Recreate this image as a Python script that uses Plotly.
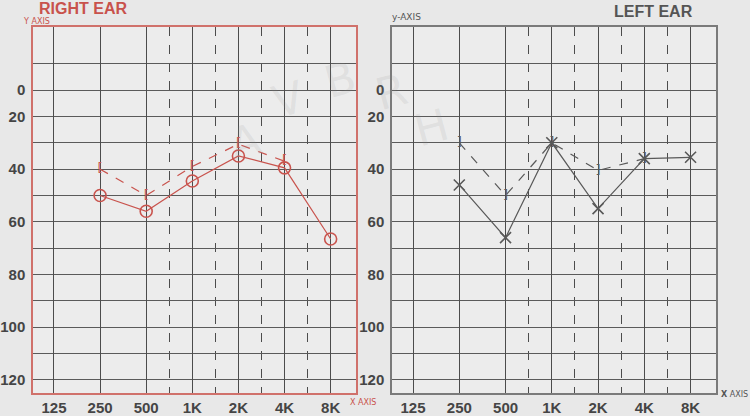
import plotly.graph_objects as go
import math

freqs = [125, 250, 500, 1000, 2000, 4000, 8000]
freq_labels = ["125", "250", "500", "1K", "2K", "4K", "8K"]
half_octave_lines = [707, 1414, 2828, 5657]

# Right ear
right_air_freq = [250, 500, 1000, 2000, 4000, 8000]
right_air_db = [50, 56, 44.5, 35, 39.5, 66.5]
right_bone_freq = [250, 500, 1000, 2000, 4000]
right_bone_db = [40, 50, 39, 30.5, 37]

# Left ear
left_air_freq = [250, 500, 1000, 2000, 4000, 8000]
left_air_db = [46, 66, 30, 55, 36, 35.5]
left_bone_freq = [250, 500, 1000, 2000, 4000]
left_bone_db = [30, 50, 30, 40.5, 36]

db_tickvals = [10, 20, 40, 60, 80, 100, 120]
db_ticktext = ["0", "20", "40", "60", "80", "100", "120"]
db_grid = [0, 10, 20, 30, 40, 50, 60, 70, 80, 90, 100, 110, 120]

watermark_letters = ["A", "V", "B", "R", "H"]

RED = "#c9544e"
GRAY = "#595959"
W, H = 750, 416

fig = go.Figure()

# Right ear traces
fig.add_trace(go.Scatter(x=right_bone_freq, y=right_bone_db, mode="lines+text",
                         text=["["] * len(right_bone_freq), textposition="middle center",
                         textfont=dict(size=13, color=RED, family="DejaVu Sans"),
                         line=dict(color=RED, width=1.2, dash="dash"),
                         xaxis="x", yaxis="y", showlegend=False))
fig.add_trace(go.Scatter(x=right_air_freq, y=right_air_db, mode="lines+markers",
                         marker=dict(symbol="circle-open", size=12, color=RED, line=dict(width=1.6)),
                         line=dict(color=RED, width=1.2),
                         xaxis="x", yaxis="y", showlegend=False))

# Left ear traces
fig.add_trace(go.Scatter(x=left_bone_freq, y=left_bone_db, mode="lines+text",
                         text=["]"] * len(left_bone_freq), textposition="middle center",
                         textfont=dict(size=13, color=GRAY, family="DejaVu Sans"),
                         line=dict(color=GRAY, width=1.2, dash="dash"),
                         xaxis="x2", yaxis="y2", showlegend=False))
fig.add_trace(go.Scatter(x=left_air_freq, y=left_air_db, mode="lines+markers",
                         marker=dict(symbol="x-thin-open", size=11, color=GRAY, line=dict(width=1.6, color=GRAY)),
                         line=dict(color=GRAY, width=1.2),
                         xaxis="x2", yaxis="y2", showlegend=False))

xrange = [math.log10(125) - 0.455 * math.log10(2), math.log10(8000) + 0.55 * math.log10(2)]
yrange = [125, -14]

def xaxis_cfg(domain, frame):
    return dict(domain=domain, type="log", range=xrange,
                tickmode="array", tickvals=freqs, ticktext=freq_labels,
                showgrid=True, gridcolor="#4c4c4c", gridwidth=1,
                minor=dict(tickmode="array", tickvals=half_octave_lines, showgrid=True,
                           gridcolor="#4c4c4c", gridwidth=1, griddash="dash", ticks=""),
                showline=True, linecolor=frame, linewidth=1.5, mirror=True,
                ticks="", zeroline=False,
                tickfont=dict(family="Liberation Sans", size=15, color="#454545", weight="bold"))

def yaxis_cfg(anchor, frame):
    return dict(domain=[1 - 395 / H, 1 - 27 / H], anchor=anchor, range=yrange,
                tickmode="array", tickvals=db_tickvals, ticktext=db_ticktext,
                showgrid=False,
                minor=dict(tickmode="array", tickvals=db_grid, showgrid=True,
                           gridcolor="#5a5a5a", gridwidth=1, ticks=""),
                showline=True, linecolor=frame, linewidth=1.5, mirror=True,
                ticks="", zeroline=False, ticklabelstandoff=3,
                tickfont=dict(family="Liberation Sans", size=15, color="#454545", weight="bold"))

wm_pos = [(245, 142), (288, 100), (340, 80), (392, 92), (432, 128)]
wm_annotations = [
    dict(text=ch, x=px / W, y=1 - py / H, xref="paper", yref="paper",
         xanchor="center", yanchor="middle", showarrow=False, textangle=-15,
         font=dict(family="DejaVu Sans", size=44, color="rgba(140,140,140,0.14)"))
    for ch, (px, py) in zip(watermark_letters, wm_pos)
]

fig.update_layout(
    width=W, height=H,
    margin=dict(l=0, r=0, t=0, b=0),
    paper_bgcolor="#e8e8e8",
    plot_bgcolor="#ececec",
    xaxis=dict(**xaxis_cfg([33 / W, 356 / W], "#d0716b"), anchor="y"),
    yaxis=yaxis_cfg("x", "#d0716b"),
    xaxis2=dict(**xaxis_cfg([392 / W, 716 / W], "#7a7a7a"), anchor="y2"),
    yaxis2=yaxis_cfg("x2", "#7a7a7a"),
    annotations=wm_annotations + [
        dict(text="RIGHT EAR", x=37 / W, y=1 - 9 / H, xref="paper", yref="paper",
             xanchor="left", yanchor="middle", showarrow=False,
             font=dict(family="Liberation Sans", size=16, color="#c8524c", weight="bold")),
        dict(text="LEFT EAR", x=653 / W, y=1 - 12 / H, xref="paper", yref="paper",
             xanchor="center", yanchor="middle", showarrow=False,
             font=dict(family="Liberation Sans", size=16, color="#555555", weight="bold")),
        dict(text="Y AXIS", x=21 / W, y=1 - 21.5 / H, xref="paper", yref="paper",
             xanchor="left", yanchor="middle", showarrow=False,
             font=dict(family="DejaVu Sans", size=8, color="#c8524c")),
        dict(text="y-AXIS", x=390 / W, y=1 - 17 / H, xref="paper", yref="paper",
             xanchor="left", yanchor="middle", showarrow=False,
             font=dict(family="DejaVu Sans", size=9, color="#555555")),
        dict(text="X AXIS", x=348 / W, y=1 - 404 / H, xref="paper", yref="paper",
             xanchor="left", yanchor="middle", showarrow=False,
             font=dict(family="DejaVu Sans", size=8, color="#c8524c")),
        dict(text="<b>X</b> AXIS", x=719 / W, y=1 - 396 / H, xref="paper", yref="paper",
             xanchor="left", yanchor="middle", showarrow=False,
             font=dict(family="DejaVu Sans", size=8, color="#555555")),
    ],
)

fig.write_html("out.html")
